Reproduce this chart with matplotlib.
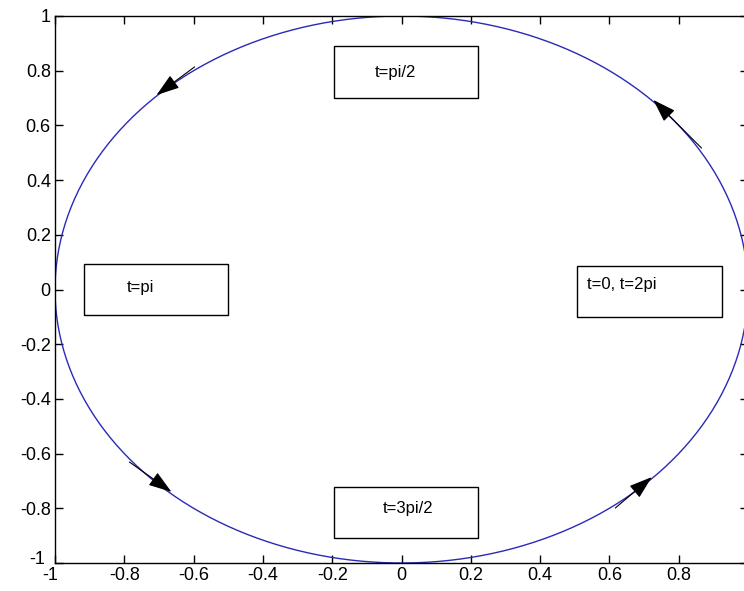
import numpy as np
import matplotlib
matplotlib.use("Agg")
import matplotlib.pyplot as plt
from matplotlib.patches import Rectangle
from matplotlib.transforms import ScaledTranslation

plt.rcParams['font.family'] = ['Liberation Sans', 'DejaVu Sans']

# parameter for the unit circle
t = np.linspace(0, 2 * np.pi, 400)
circle_x = np.cos(t)
circle_y = np.sin(t)

# annotation arrows: (tail_x, tail_y, tip_x, tip_y)
arrow_tail_x = [0.866, -0.597, -0.785, 0.617]
arrow_tail_y = [0.517, 0.814, -0.631, -0.799]
arrow_tip_x = [0.727, -0.707, -0.664, 0.722]
arrow_tip_y = [0.693, 0.711, -0.740, -0.686]

# text boxes
labels = ['t=pi/2', 't=pi', 't=3pi/2', 't=0, t=2pi']
box_x0 = [-0.195, -0.916, -0.195, 0.506]
box_x1 = [0.221, -0.501, 0.221, 0.925]
box_y0 = [0.700, -0.093, -0.909, -0.101]
box_y1 = [0.890, 0.093, -0.722, 0.086]
text_x = [-0.077, -0.792, -0.053, 0.535]
text_y = [0.795, 0.006, -0.799, 0.017]

xticks = [-1, -0.8, -0.6, -0.4, -0.2, 0, 0.2, 0.4, 0.6, 0.8]
xtick_labels = ['-1', '-0.8', '-0.6', '-0.4', '-0.2', '0', '0.2', '0.4', '0.6', '0.8']
yticks = [-1, -0.8, -0.6, -0.4, -0.2, 0, 0.2, 0.4, 0.6, 0.8, 1]
ytick_labels = ['-1', '-0.8', '-0.6', '-0.4', '-0.2', '0', '0.2', '0.4', '0.6', '0.8', '1']

fig = plt.figure(figsize=(7.44, 5.91), dpi=100)
ax = fig.add_axes([55 / 744, 28 / 591, 693 / 744, 547 / 591])

ax.plot(circle_x, circle_y, color='#2a2ab8', lw=1.0)

for x0, y0, x1, y1 in zip(arrow_tail_x, arrow_tail_y, arrow_tip_x, arrow_tip_y):
    ax.annotate('', xy=(x1, y1), xytext=(x0, y0),
                arrowprops=dict(arrowstyle='-|>,head_length=0.9,head_width=0.3',
                                mutation_scale=16,
                                color='black', lw=0.8, shrinkA=0, shrinkB=0))

for lab, bx0, bx1, by0, by1, tx, ty in zip(labels, box_x0, box_x1, box_y0, box_y1, text_x, text_y):
    ax.add_patch(Rectangle((bx0, by0), bx1 - bx0, by1 - by0, fill=False,
                           edgecolor='black', lw=1.0, zorder=3))
    ax.text(tx, ty, lab, ha='left', va='center', fontsize=12, color='black')

ax.set_xlim(-1, 1)
ax.set_ylim(-1, 1)
ax.set_xticks(xticks)
ax.set_xticklabels(xtick_labels)
ax.set_yticks(yticks)
ax.set_yticklabels(ytick_labels)
ax.tick_params(direction='in', length=6, width=1, top=True, right=True,
               labelsize=13, pad=3)
for s in ax.spines.values():
    s.set_linewidth(1.0)

# nudge the corner labels apart as in the reference
ylab0 = ax.get_yticklabels()[0]
ylab0.set_transform(ylab0.get_transform() + ScaledTranslation(-6 / 100, 5 / 100, fig.dpi_scale_trans))
xlab0 = ax.get_xticklabels()[0]
xlab0.set_transform(xlab0.get_transform() + ScaledTranslation(-5 / 100, 0, fig.dpi_scale_trans))

fig.savefig('out.png', dpi=100)
